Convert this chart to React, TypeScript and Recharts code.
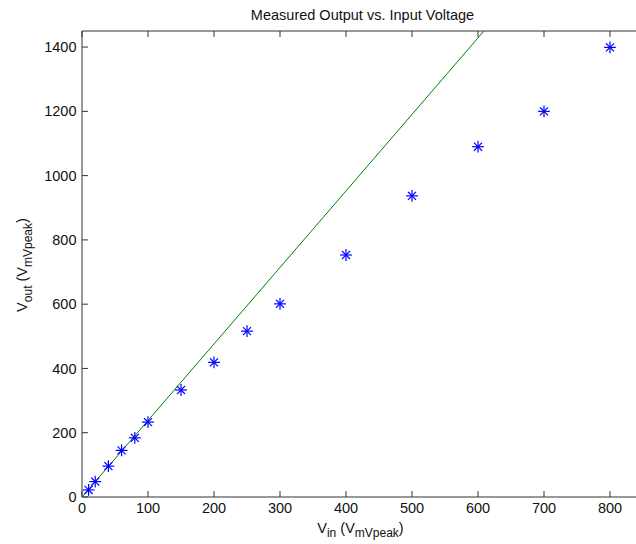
import React from 'react';
import { ComposedChart, XAxis, YAxis, Scatter } from 'recharts';

const inputVoltages = [10, 20, 40, 60, 80, 100, 150, 200, 250, 300, 400, 500, 600, 700, 800];
const measuredOutputs = [22, 48, 96, 145, 184, 233, 333, 419, 516, 601, 753, 937, 1090, 1200, 1399];
const idealX = [0, 609];
const idealY = [0, 1450];
const xTicks = [0, 100, 200, 300, 400, 500, 600, 700, 800];
const yTicks = [0, 200, 400, 600, 800, 1000, 1200, 1400];

const measured = inputVoltages.map((x, i) => ({ x, y: measuredOutputs[i] }));
const ideal = idealX.map((x, i) => ({ x, y: idealY[i] }));

const FONT = '"Liberation Sans", Arial, sans-serif';
const TEXT = '#111';
const AXIS = '#333';

const Star = (props: any) => {
  const { cx, cy } = props;
  if (cx == null || cy == null) return <g />;
  const a = 5.3;
  const d = 3.6;
  return (
    <g stroke="#0000ff" strokeWidth={1.2} strokeLinecap="square">
      <line x1={cx - a} y1={cy} x2={cx + a} y2={cy} />
      <line x1={cx} y1={cy - a} x2={cx} y2={cy + a} />
      <line x1={cx - d} y1={cy - d} x2={cx + d} y2={cy + d} />
      <line x1={cx - d} y1={cy + d} x2={cx + d} y2={cy - d} />
    </g>
  );
};

const Nothing = () => <g />;

const TitleLabel = (props: any) => {
  const vb = props.viewBox || {};
  return (
    <text x={vb.x + vb.width / 2} y={vb.y - 10} textAnchor="middle" fontFamily={FONT} fontSize={14.5} fill={TEXT}>
      Measured Output vs. Input Voltage
    </text>
  );
};

const XLabel = (props: any) => {
  const vb = props.viewBox || {};
  return (
    <text x={vb.x + vb.width / 2 - 2} y={vb.y + 36} textAnchor="middle" fontFamily={FONT} fontSize={14.5} fill={TEXT}>
      V<tspan fontSize={12} dy={4}>in</tspan>
      <tspan dy={-4}> (V</tspan>
      <tspan fontSize={12} dy={4}>mVpeak</tspan>
      <tspan dy={-4}>)</tspan>
    </text>
  );
};

const YLabel = (props: any) => {
  const vb = props.viewBox || {};
  const cx = 27;
  const cy = vb.y + vb.height / 2 + 1;
  return (
    <text x={cx} y={cy} textAnchor="middle" transform={`rotate(-90, ${cx}, ${cy})`} fontFamily={FONT} fontSize={14.5} fill={TEXT}>
      V<tspan fontSize={12} dy={5}>out</tspan>
      <tspan dy={-5}> (V</tspan>
      <tspan fontSize={12} dy={5}>mVpeak</tspan>
      <tspan dy={-5}>)</tspan>
    </text>
  );
};

export default function App() {
  const tickStyle = { fontFamily: FONT, fontSize: 14.5, fill: TEXT };
  return (
    <div style={{ position: 'fixed', left: 0, top: 0, width: 636, height: 544, overflow: 'hidden', background: '#fff' }}>
      <ComposedChart width={650} height={544} margin={{ top: 30, right: 7, bottom: 17, left: 0 }}>
        <XAxis
          xAxisId="bottom"
          type="number"
          dataKey="x"
          orientation="bottom"
          domain={[0, 850]}
          ticks={xTicks}
          interval={0}
          height={30}
          tickSize={-6}
          tickMargin={12}
          stroke={AXIS}
          tick={tickStyle}
          label={XLabel}
        />
        <XAxis
          xAxisId="top"
          type="number"
          dataKey="x"
          orientation="top"
          domain={[0, 850]}
          ticks={xTicks}
          interval={0}
          height={1}
          tickSize={-6}
          tickFormatter={() => ''}
          stroke={AXIS}
          label={TitleLabel}
        />
        <YAxis
          yAxisId="left"
          type="number"
          dataKey="y"
          domain={[0, 1450]}
          ticks={yTicks}
          interval={0}
          width={82}
          tickSize={-6}
          tickMargin={11.5}
          stroke={AXIS}
          tick={tickStyle}
          label={YLabel}
        />
        <Scatter
          name="ideal"
          data={ideal}
          xAxisId="top"
          yAxisId="left"
          line={{ stroke: '#008000', strokeWidth: 1 }}
          shape={Nothing}
          isAnimationActive={false}
        />
        <Scatter
          name="measured"
          data={measured}
          xAxisId="bottom"
          yAxisId="left"
          shape={Star}
          isAnimationActive={false}
        />
      </ComposedChart>
    </div>
  );
}
